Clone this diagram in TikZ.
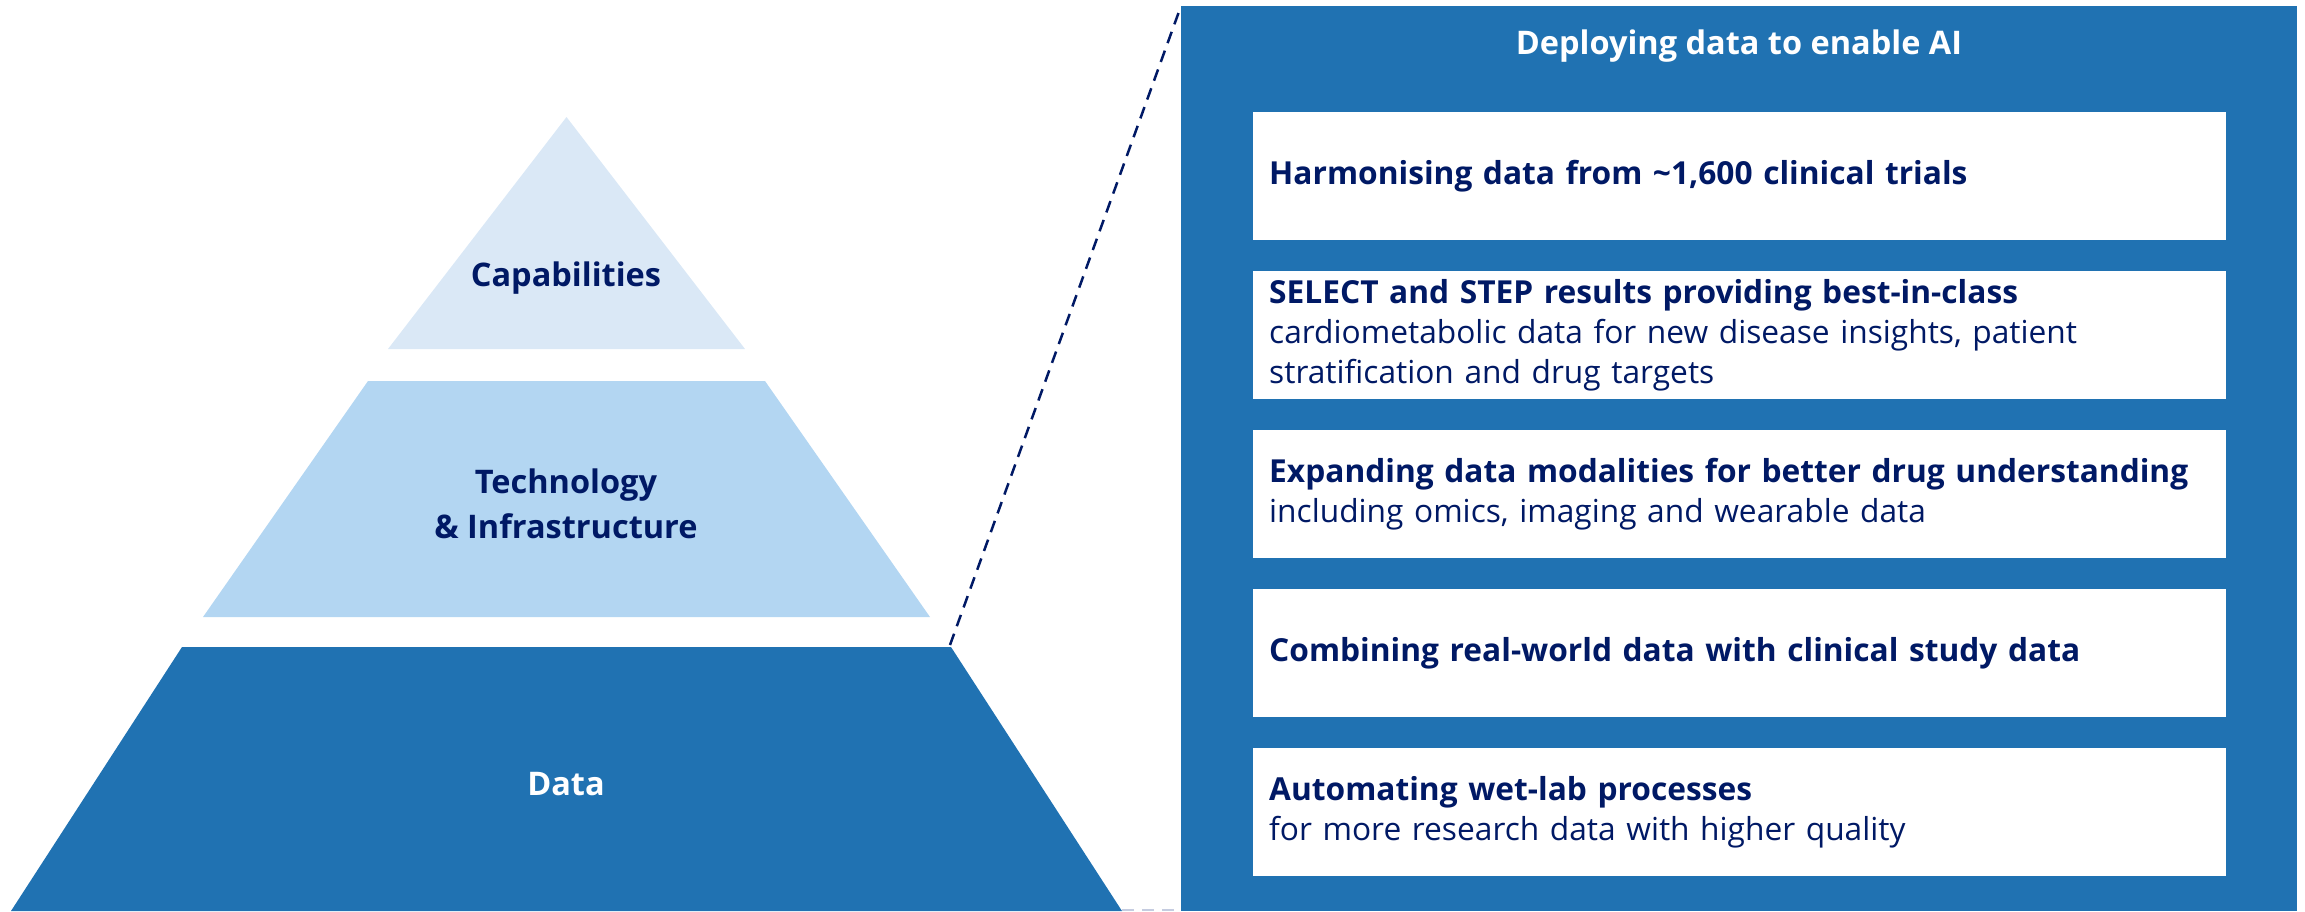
\documentclass[tikz,border=0pt]{standalone}
\usepackage{fontspec}
\setmainfont{Open Sans}
\definecolor{navy}{HTML}{001965}
\definecolor{panelblue}{HTML}{2072B2}
\definecolor{techblue}{HTML}{B3D6F2}
\definecolor{capblue}{HTML}{DAE8F6}
\definecolor{faint}{HTML}{C5CCE0}
\tikzset{
  lbl/.style={text=navy, font=\fontsize{32.5}{45}\selectfont\bfseries, align=center},
  itembox/.style={fill=white, draw=none, minimum width=973pt, minimum height=128pt,
    text width=941pt, inner xsep=16pt, align=left, text=navy,
    font=\fontsize{31.7}{40}\selectfont, anchor=north west},
  connector/.style={navy, line width=2.5pt, dash pattern=on 12pt off 8pt},
}
\begin{document}
\begin{tikzpicture}[x=1pt,y=-1pt]
\useasboundingbox (0,0) rectangle (2305,911);
% pyramid
\fill[capblue] (566.5,117) -- (745,349) -- (388,349) -- cycle;
\fill[techblue] (368,381) -- (765,381) -- (930,617) -- (203,617) -- cycle;
\fill[panelblue] (182,647) -- (951,647) -- (1122,911) -- (11,911) -- cycle;
\coordinate (dataTR) at (950,645);
\coordinate (dataBR) at (1122,910);
\node[lbl] (cap) at (566,278) {Capabilities};
\node[lbl] (tech) at (566,504) {Technology\\\& Infrastructure};
\node[lbl, text=white] (data) at (566,784) {Data};
% panel
\node[fill=panelblue, draw=none, minimum width=1116pt, minimum height=905pt, anchor=north west, inner sep=0pt] (panel) at (1181,6) {};
\node[text=white, font=\fontsize{32.5}{40}\selectfont\bfseries] (title) at (1739,46) {Deploying data to enable AI};
\node[itembox] (b1) at (1253,112) {\textbf{Harmonising data from \textasciitilde1,600 clinical trials}};
\node[itembox] (b2) at (1253,271) {\textbf{SELECT and STEP results providing best-in-class}\\cardiometabolic data for new disease insights, patient\\stratification and drug targets};
\node[itembox] (b3) at (1253,430) {\textbf{Expanding data modalities for better drug understanding}\\including omics, imaging and wearable data};
\node[itembox] (b4) at (1253,589) {\textbf{Combining real-world data with clinical study data}};
\node[itembox] (b5) at (1253,748) {\textbf{Automating wet-lab processes}\\for more research data with higher quality};
% connectors
\draw[connector] (dataTR) -- (panel.north west);
\draw[connector, faint, line width=2pt] (dataBR) -- (panel.south west |- dataBR);
\end{tikzpicture}
\end{document}
